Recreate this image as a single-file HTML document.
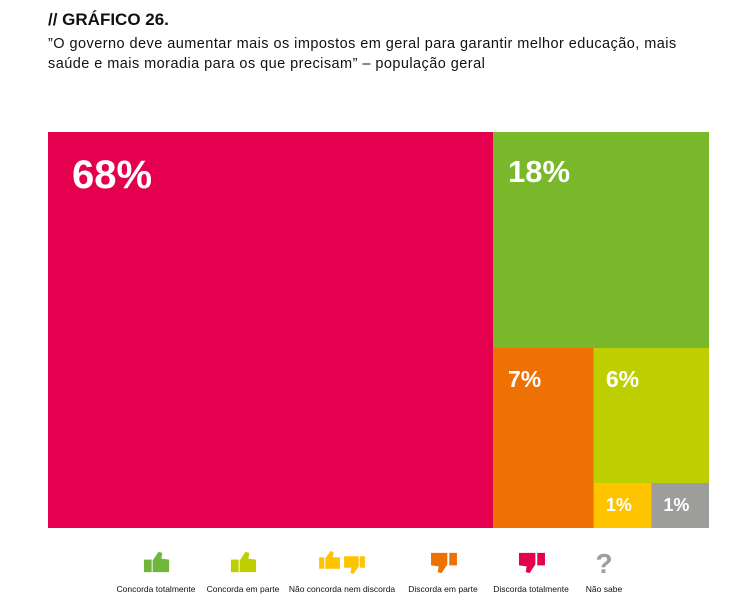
<!DOCTYPE html>
<html><head><meta charset="utf-8">
<style>
body{margin:0;width:735px;height:605px;background:#fff;font-family:"Liberation Sans",sans-serif;position:relative;overflow:hidden}
#title{position:absolute;left:48px;top:10px;font-weight:bold;font-size:17px;color:#111}
#sub{position:absolute;left:48px;top:34px;font-size:14.5px;letter-spacing:0.45px;line-height:20px;color:#111;width:700px;white-space:nowrap}
.lg{position:absolute;top:550px;width:130px;text-align:center;font-size:8.5px;color:#111}
.lg svg{display:block;margin:0 auto 9px}
</style></head><body>
<div id="title">// GRÁFICO 26.</div>
<div id="sub">”O governo deve aumentar mais os impostos em geral para garantir melhor educação, mais<br>saúde e mais moradia para os que precisam” – população geral</div>
<svg id="tm" width="735" height="605" style="position:absolute;left:0;top:0"></svg>
<div class="lg" style="left:91px"><svg width="29" height="25" viewBox="0 0 30 24"><rect x="2" y="9" width="8" height="13" fill="#6fb63a"/><path d="M11 10 L17 1 L21 2 L20 8 L28 9 L28 22 L11 22Z" fill="#6fb63a"/></svg>Concorda totalmente</div>
<div class="lg" style="left:178px"><svg width="29" height="25" viewBox="0 0 30 24"><rect x="2" y="9" width="8" height="13" fill="#bdcf00"/><path d="M11 10 L17 1 L21 2 L20 8 L28 9 L28 22 L11 22Z" fill="#bdcf00"/></svg>Concorda em parte</div>
<div class="lg" style="left:277px"><svg width="48" height="25" viewBox="0 0 46 24"><rect x="1" y="7" width="5" height="11" fill="#ffc400"/><path d="M7 8 L12 1 L15 2 L14 7 L21 7 L21 18 L7 18Z" fill="#ffc400"/><rect x="40" y="6" width="5" height="11" fill="#ffc400"/><path d="M39 16 L34 23 L31 22 L32 17 L25 17 L25 6 L39 6Z" fill="#ffc400"/></svg>Não concorda nem discorda</div>
<div class="lg" style="left:378px"><svg width="29" height="25" viewBox="0 0 30 26"><rect x="21" y="3" width="8" height="13" fill="#ee7203"/><path d="M19 15 L13 24 L9 23 L10 17 L2 16 L2 3 L19 3Z" fill="#ee7203"/></svg>Discorda em parte</div>
<div class="lg" style="left:466px"><svg width="29" height="25" viewBox="0 0 30 26"><rect x="21" y="3" width="8" height="13" fill="#e4004f"/><path d="M19 15 L13 24 L9 23 L10 17 L2 16 L2 3 L19 3Z" fill="#e4004f"/></svg>Discorda totalmente</div>
<div class="lg" style="left:539px"><div style="font-size:28px;font-weight:bold;color:#9d9d9c;height:34px;line-height:28px">?</div>Não sabe</div>
<script>
const categories=["Concorda totalmente","Discorda totalmente","Discorda em parte","Concorda em parte","Não concorda nem discorda","Não sabe"];
const values=[18,68,7,6,1,1];
const labels=["18%","68%","7%","6%","1%","1%"];
const colors=["#78b82a","#e4004f","#ee7203","#bdcf00","#ffc400","#9d9d9c"];
const svg=document.getElementById('tm');const NS="http://www.w3.org/2000/svg";
const X0=48,Y0=132,W=661,H=396;
function rect(i,x,y,w,h,fs,px,py){
 const r=document.createElementNS(NS,'rect');
 r.setAttribute('x',x);r.setAttribute('y',y);r.setAttribute('width',w);r.setAttribute('height',h);r.setAttribute('fill',colors[i]);
 
 
 svg.appendChild(r);
 const t=document.createElementNS(NS,'text');
 t.setAttribute('x',x+px);t.setAttribute('y',y+py);t.setAttribute('fill','#fff');
 t.setAttribute('font-size',fs);t.setAttribute('font-weight','bold');t.setAttribute('font-family','Liberation Sans, sans-serif');
 t.textContent=labels[i];
 
 
 svg.appendChild(t);
}
const total=values.reduce((a,b)=>a+b,0);
const red=values[1],green=values[0],orange=values[2],lime=values[3],yel=values[4],gray=values[5];
const wRed=W*red/total;
rect(1,X0,Y0,wRed,H,40,24,56);
const rx=X0+wRed,rw=W-wRed,rest=total-red;
const hG=H*green/rest;
rect(0,rx,Y0,rw,hG,31,15,50);
const r2=rest-green,y2=Y0+hG,h2=H-hG;
const wO=rw*orange/r2;
rect(2,rx,y2,wO,h2,23,15,39);
const lx=rx+wO,lw=rw-wO,r3=r2-orange;
const hL=h2*lime/r3;
rect(3,lx,y2,lw,hL,23,12,39);
const yy=y2+hL,hh=h2-hL,wY=lw*yel/(yel+gray);
rect(4,lx,yy,wY,hh,18,12,28);
rect(5,lx+wY,yy,lw-wY,hh,18,12,28);
</script>
</body></html>
